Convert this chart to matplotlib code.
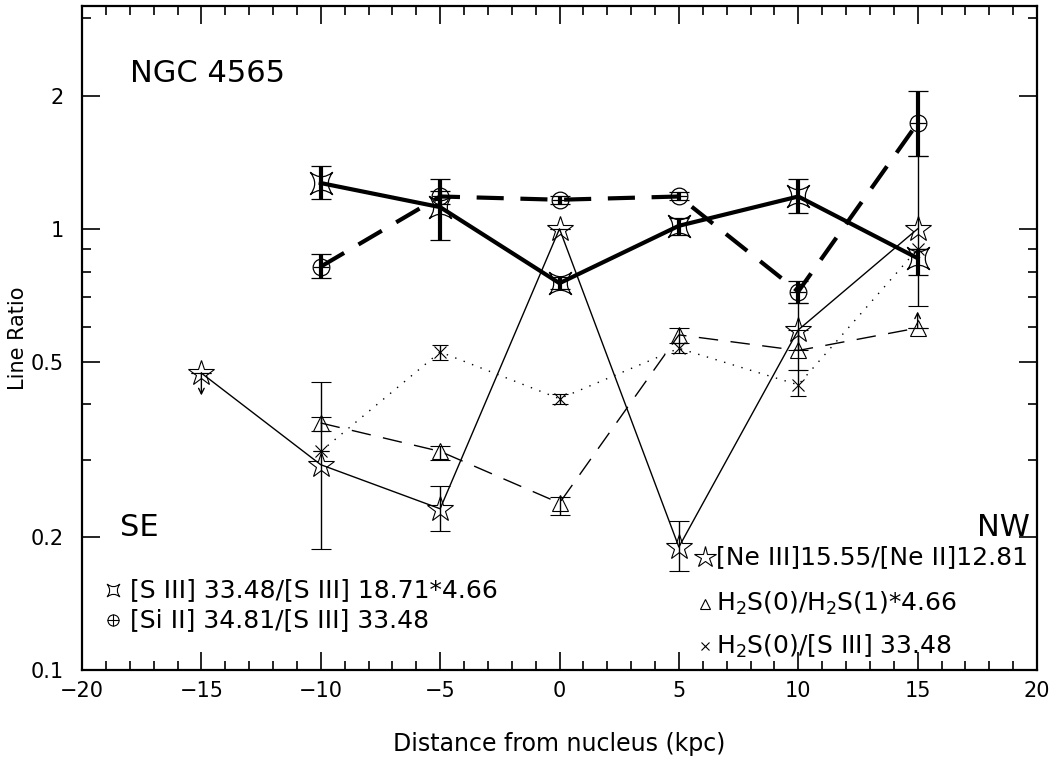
import numpy as np
import matplotlib
matplotlib.use("Agg")
import matplotlib.pyplot as plt
from matplotlib.path import Path
from matplotlib.ticker import FixedLocator, NullFormatter

plt.rcParams["font.family"] = ["DejaVu Sans"]
plt.rcParams["mathtext.default"] = "regular"

# ---- data -------------------------------------------------------------
pos = [-10, -5, 0, 5, 10, 15]            # kpc along the major axis

s3_ratio = [1.27, 1.12, 0.753, 1.016, 1.184, 0.858]   # [S III]33.48/[S III]18.71*4.66
s3_lo    = [1.17, 0.944, 0.73, 0.97, 1.085, 0.785]
s3_hi    = [1.39, 1.297, 0.776, 1.06, 1.297, 0.90]

si2_ratio = [0.821, 1.184, 1.164, 1.184, 0.721, 1.737]  # [Si II]34.81/[S III]33.48
si2_lo    = [0.773, 1.14, 1.14, 1.16, 0.68, 1.46]
si2_hi    = [0.876, 1.22, 1.19, 1.21, 0.76, 2.056]

ne_pos   = [-15, -10, -5, 0, 5, 10, 15]
ne_ratio = [0.471, 0.292, 0.232, 1.0, 0.19, 0.59, 1.0]  # [Ne III]15.55/[Ne II]12.81
ne_lo    = [np.nan, 0.188, 0.207, np.nan, 0.168, 0.53, 0.667]
ne_hi    = [np.nan, 0.45, 0.261, np.nan, 0.218, 0.679, 1.46]
ne_upper_limit = [True, False, False, False, False, False, False]

h2_ratio = [0.363, 0.313, 0.239, 0.575, 0.53, 0.596]   # H2 S(0)/H2 S(1)*4.66
h2_lo    = [0.349, 0.299, 0.224, 0.551, 0.478, np.nan]
h2_hi    = [0.375, 0.322, 0.247, 0.596, 0.59, np.nan]
h2_lower_limit = [False, False, False, False, False, True]

h2s3_ratio = [0.313, 0.526, 0.412, 0.536, 0.443, 0.90]  # H2 S(0)/[S III]33.48
h2s3_lo    = [np.nan, 0.505, 0.401, 0.523, 0.417, np.nan]
h2s3_hi    = [np.nan, 0.545, 0.422, 0.551, 0.478, np.nan]

y_major = [0.1, 0.2, 0.5, 1, 2]
y_major_labels = ["0.1", "0.2", "0.5", "1", "2"]
y_minor = [0.3, 0.4, 0.6, 0.7, 0.8, 0.9, 3]
x_major = [-20, -15, -10, -5, 0, 5, 10, 15, 20]


def yerr(vals, lo, hi):
    v = np.asarray(vals, float)
    l = np.asarray(lo, float)
    h = np.asarray(hi, float)
    return np.vstack([np.nan_to_num(v - l), np.nan_to_num(h - v)])


# concave four-cornered marker for the [S III] ratio
c = 0.22
astroid = Path(
    [(-1, -1), (0, -c), (1, -1), (c, 0), (1, 1), (0, c), (-1, 1), (-c, 0), (-1, -1), (-1, -1)],
    [Path.MOVETO, Path.CURVE3, Path.CURVE3, Path.CURVE3, Path.CURVE3,
     Path.CURVE3, Path.CURVE3, Path.CURVE3, Path.CURVE3, Path.CLOSEPOLY],
)

fig = plt.figure(figsize=(10.57, 7.64), dpi=100)
ax = fig.add_axes([82 / 1057, 94 / 764, 955 / 1057, 664 / 764])
ax.set_yscale("log")
ax.set_xlim(-20, 20)
ax.set_ylim(0.1, 3.2)

K = "black"
thin = 1.0

# [S III] ratio: thick solid line
ax.errorbar(pos, s3_ratio, yerr=yerr(s3_ratio, s3_lo, s3_hi), color=K, lw=3.0,
            elinewidth=3.0, capsize=7, capthick=3.0, marker=astroid, ms=16,
            mfc="none", mec=K, mew=0.9, zorder=4)

# [Si II]/[S III]: thick dashed line, circle with a cross
ax.errorbar(pos, si2_ratio, yerr=yerr(si2_ratio, si2_lo, si2_hi), color=K, lw=3.0,
            elinewidth=3.0, capsize=7, capthick=3.0, marker="o", ms=12,
            mfc="none", mec=K, mew=0.9, dashes=(6.5, 4), zorder=4)
ax.plot(pos, si2_ratio, ls="none", marker="_", ms=12, mec=K, mew=0.9, zorder=4)

# [Ne III]/[Ne II]: thin solid line, open stars
ax.errorbar(ne_pos, ne_ratio, yerr=yerr(ne_ratio, ne_lo, ne_hi), color=K, lw=thin,
            elinewidth=thin, capsize=7, capthick=thin, marker="*", ms=19,
            mfc="none", mec=K, mew=0.8, zorder=3)

# H2 S(0)/S(1): thin dashed line, open triangles
ax.errorbar(pos, h2_ratio, yerr=yerr(h2_ratio, h2_lo, h2_hi), color=K, lw=thin,
            elinewidth=thin, capsize=7, capthick=thin, marker="^", ms=11,
            mfc="none", mec=K, mew=0.8, dashes=(14, 9), zorder=3)

# H2 S(0)/[S III]: dotted line, crosses
ax.errorbar(pos, h2s3_ratio, yerr=yerr(h2s3_ratio, h2s3_lo, h2s3_hi), color=K, lw=thin,
            elinewidth=thin, capsize=6, capthick=thin, marker="x", ms=9,
            mfc="none", mec=K, mew=0.8, dashes=(1, 5.5), zorder=3)

# limit arrows
for xv, v, flag in zip(ne_pos, ne_ratio, ne_upper_limit):
    if flag:
        ax.annotate("", xy=(xv, v * 0.89), xytext=(xv, v),
                    arrowprops=dict(arrowstyle="->", lw=1.0, color=K,
                                    shrinkA=0, shrinkB=0, mutation_scale=10))
for xv, v, flag in zip(pos, h2_ratio, h2_lower_limit):
    if flag:
        ax.annotate("", xy=(xv, v * 1.09), xytext=(xv, v),
                    arrowprops=dict(arrowstyle="->", lw=1.0, color=K,
                                    shrinkA=0, shrinkB=0, mutation_scale=10))

# axes styling
ax.yaxis.set_major_locator(FixedLocator(y_major))
ax.set_yticklabels(y_major_labels)
ax.yaxis.set_minor_locator(FixedLocator(y_minor))
ax.yaxis.set_minor_formatter(NullFormatter())
ax.set_xticks(x_major)
ax.set_xticklabels([f"{v:d}".replace("-", "\u2212") for v in x_major])
ax.xaxis.set_minor_locator(FixedLocator(range(-20, 21)))
ax.tick_params(which="both", direction="in", top=True, right=True, width=1.2,
               labelsize=15)
ax.tick_params(which="major", length=13)
ax.tick_params(axis="x", which="major", pad=8)
ax.tick_params(axis="y", which="major", pad=13)
ax.tick_params(which="minor", length=6.5)
for s in ax.spines.values():
    s.set_linewidth(1.6)

ax.set_xlabel("Distance from nucleus (kpc)", fontsize=17, labelpad=22)
ax.set_ylabel("Line Ratio", fontsize=15, labelpad=2)

# annotations
ax.text(0.05, 0.898, "NGC 4565", transform=ax.transAxes, fontsize=22,
        va="center", ha="left")
ax.text(0.04, 0.215, "SE", transform=ax.transAxes, fontsize=22, va="center", ha="left")
ax.text(0.993, 0.215, "NW", transform=ax.transAxes, fontsize=22, va="center", ha="right")

# key
tr = ax.transAxes
fs = 18
ax.plot([0.0325], [0.120], transform=tr, marker=astroid, ms=9, mfc="none", mec=K,
        mew=0.8, clip_on=False)
ax.text(0.0503, 0.120, "[S III] 33.48/[S III] 18.71*4.66", transform=tr,
        fontsize=fs, va="center", ha="left")
ax.plot([0.0325], [0.075], transform=tr, marker="o", ms=8, mfc="none", mec=K,
        mew=0.8, clip_on=False)
ax.plot([0.0325], [0.075], transform=tr, marker="+", ms=8, mec=K, mew=0.8, clip_on=False)
ax.text(0.0503, 0.075, "[Si II] 34.81/[S III] 33.48", transform=tr,
        fontsize=fs, va="center", ha="left")

ax.plot([0.652], [0.170], transform=tr, marker="*", ms=16, mfc="none", mec=K,
        mew=0.8, clip_on=False)
ax.text(0.664, 0.170, "[Ne III]15.55/[Ne II]12.81", transform=tr,
        fontsize=fs, va="center", ha="left")
ax.plot([0.652], [0.100], transform=tr, marker="^", ms=7, mfc="none", mec=K,
        mew=0.8, clip_on=False)
ax.text(0.664, 0.100, "H$_2$S(0)/H$_2$S(1)*4.66", transform=tr,
        fontsize=fs, va="center", ha="left")
ax.plot([0.652], [0.036], transform=tr, marker="x", ms=6, mfc="none", mec=K,
        mew=0.8, clip_on=False)
ax.text(0.664, 0.036, "H$_2$S(0)/[S III] 33.48", transform=tr,
        fontsize=fs, va="center", ha="left")

fig.savefig("out.png", dpi=100)
